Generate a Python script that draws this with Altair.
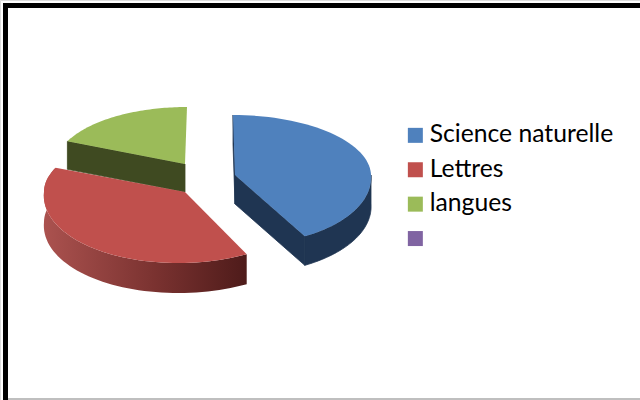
import math
import altair as alt

# Shares of each field of study (the last one is an empty legend entry).
categories = ["Science naturelle", "Lettres", "langues", ""]
shares = [42.0, 39.5, 18.5, 0.0]
top_colors = ["#4F81BD", "#C0504D", "#9BBB59", "#8064A2"]

# Exploded 3D pie: apex of each wedge, radii of its tilted ellipse,
# depth of the extrusion and the lean of its back and front halves.
centers = {"Science naturelle": (235, 175), "Lettres": (185, 192), "langues": (185, 164)}
radius_x = {"Science naturelle": 136, "Lettres": 141, "langues": 129}
radius_back = {"Science naturelle": 60, "Lettres": 61, "langues": 57}
radius_front = {"Science naturelle": 70, "Lettres": 71, "langues": 70}
lean_back = {"Science naturelle": 0.033, "Lettres": 0.0, "langues": -0.035}
lean_front = {"Science naturelle": 0.07, "Lettres": -0.1, "langues": 0.0}
depth = {"Science naturelle": 29, "Lettres": 30, "langues": 28}


def rim(name, angle):
    cx, cy = centers[name]
    t = math.radians(angle)
    ry = radius_back[name] if math.cos(t) > 0 else radius_front[name]
    dy = -ry * math.cos(t)
    dx = radius_x[name] * math.sin(t)
    dx += (lean_front[name] if dy > 0 else lean_back[name]) * dy
    return [cx + dx, cy + dy]


def sweep(name, start, end, steps=60):
    return [rim(name, start + (end - start) * i / steps) for i in range(steps + 1)]


def shifted(points, dy):
    return [[x, y + dy] for x, y in points]


def feature(name, ring, part):
    closed = ring + [ring[0]]
    return {
        "type": "Feature",
        "geometry": {"type": "Polygon", "coordinates": [closed]},
        "properties": {"slice": name, "part": part},
    }


# Start and end angle of each wedge, clockwise from the back of the pie.
angles = {}
running = 0.0
for name, share in zip(categories, shares):
    angles[name] = (running, running + share / sum(shares) * 360)
    running = angles[name][1]

tops, outer = [], {}
for name in ["langues", "Lettres", "Science naturelle"]:
    a0, a1 = angles[name]
    arc = sweep(name, a0, a1)
    tops.append(feature(name, [list(centers[name])] + arc, "top"))
    # Only the part of the rim that turns toward the viewer gets a wall.
    visible = sweep(name, max(a0, 90), a1)
    outer[name] = feature(name, visible + shifted(visible, depth[name])[::-1], "rim")

d = depth["Science naturelle"]
a0, a1 = angles["Science naturelle"]
c = list(centers["Science naturelle"])
p_start, p_end = rim("Science naturelle", a0), rim("Science naturelle", a1)
blue_side = [
    feature("Science naturelle", [p_end, c, [c[0], c[1] + d], [p_end[0], p_end[1] + d]], "side"),
    feature("Science naturelle", [p_start, c, [c[0], c[1] + d], [p_start[0], p_start[1] + d]], "side"),
    outer["Science naturelle"],
]

d = depth["langues"]
a0, a1 = angles["langues"]
c = list(centers["langues"])
p_start = rim("langues", a0)
green_side = [
    feature("langues", [p_start, c, [c[0], c[1] + d], [p_start[0], p_start[1] + d]], "side"),
]

projection = alt.Projection(type="identity", scale=1, translate=[0, 0])

# A thin stroke in the wall colour closes the seams between adjoining faces.
green_walls = alt.Chart(alt.Data(values=green_side)).mark_geoshape(
    fill="#3F4A21", stroke="#3F4A21", strokeWidth=0.8
).project(**projection.to_dict())

red_shading = alt.LinearGradient(
    gradient="linear",
    x1=0, y1=0, x2=1, y2=0,
    stops=[
        alt.GradientStop(color="#AB524F", offset=0),
        alt.GradientStop(color="#7A3230", offset=0.55),
        alt.GradientStop(color="#4E1B1A", offset=1),
    ],
)
red_walls = alt.Chart(alt.Data(values=[outer["Lettres"]])).mark_geoshape(
    fill=red_shading, stroke=None
).project(**projection.to_dict())

blue_walls = alt.Chart(alt.Data(values=blue_side)).mark_geoshape(
    fill="#1F3552", stroke="#1F3552", strokeWidth=0.8
).project(**projection.to_dict())

top_faces = alt.Chart(alt.Data(values=tops)).mark_geoshape(stroke=None).encode(
    color=alt.Color(
        "properties.slice:N",
        scale=alt.Scale(domain=categories, range=top_colors),
        legend=alt.Legend(
            title=None,
            orient="none",
            legendX=403,
            legendY=123,
            symbolType="square",
            symbolSize=225,
            symbolStrokeWidth=0,
            symbolOpacity=1,
            labelFont="Lato",
            labelFontSize=24.7,
            labelColor="#000000",
            labelOffset=2,
            labelLimit=260,
            rowPadding=8.4,
            padding=0,
        ),
    )
).project(**projection.to_dict())

# Heavy black frame on the top and left, thin grey line along the bottom.
frame_top = alt.Chart().mark_rule(color="#000000", strokeWidth=5).encode(
    x=alt.value(3), x2=alt.value(640), y=alt.value(5.5)
)
frame_left = alt.Chart().mark_rule(color="#000000", strokeWidth=5).encode(
    x=alt.value(5.5), y=alt.value(3), y2=alt.value(400)
)
frame_bottom = alt.Chart().mark_rule(color="#BFBFBF", strokeWidth=2).encode(
    x=alt.value(8), x2=alt.value(640), y=alt.value(399)
)

chart = alt.layer(
    green_walls, red_walls, blue_walls, top_faces, frame_top, frame_left, frame_bottom
).properties(
    width=640, height=400, padding=0, autosize=alt.AutoSizeParams(type="none")
).configure_view(stroke=None).configure(background="#FFFFFF")

chart.save("out.html", embed_options={"renderer": "svg", "actions": False})
